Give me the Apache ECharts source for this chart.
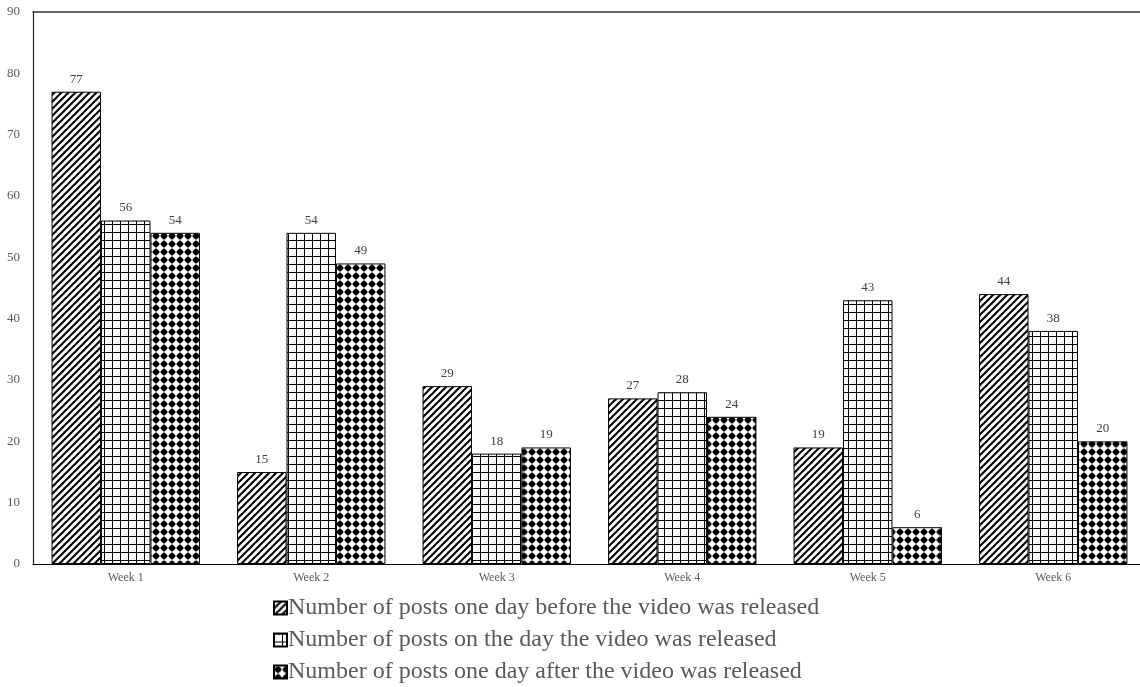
<!DOCTYPE html>
<html>
<head>
<meta charset="utf-8">
<script src="https://cdn.jsdelivr.net/npm/echarts@6/dist/echarts.min.js"></script>
<style>html,body{margin:0;padding:0;background:#fff;overflow:hidden;}#c{width:1146px;height:687px;}</style>
</head>
<body>
<div id="c"></div>
<script>
const categories = ['Week 1', 'Week 2', 'Week 3', 'Week 4', 'Week 5', 'Week 6'];
const seriesNames = [
  'Number of posts one day before the video was released',
  'Number of posts on the day the video was released',
  'Number of posts one day after the video was released'
];
const beforeValues = [77, 15, 29, 27, 19, 44];
const onDayValues = [56, 54, 18, 28, 43, 38];
const afterValues = [54, 49, 19, 24, 6, 20];
const yTicks = [0, 10, 20, 30, 40, 50, 60, 70, 80, 90];

function makeCanvas(w, h, draw) {
  const c = document.createElement('canvas');
  c.width = w; c.height = h;
  const ctx = c.getContext('2d');
  ctx.fillStyle = '#fff'; ctx.fillRect(0, 0, w, h);
  draw(ctx, w, h);
  return c;
}
const diagPat = makeCanvas(7, 7, (ctx, w, h) => {
  ctx.strokeStyle = '#000'; ctx.lineWidth = 2.0;
  for (let k = -1; k <= 1; k++) {
    ctx.beginPath();
    ctx.moveTo(k * w - 1, h + 1);
    ctx.lineTo(k * w + w + 1, -1);
    ctx.stroke();
  }
});
const gridPat = makeCanvas(8, 8, (ctx, w, h) => {
  ctx.fillStyle = '#000';
  ctx.fillRect(0, 0, w, 1);
  ctx.fillRect(0, 0, 1, h);
});
const dotPat = makeCanvas(8, 8, (ctx, w, h) => {
  ctx.fillStyle = '#000';
  ctx.beginPath();
  ctx.arc(4, 4, 3.0, 0, Math.PI * 2);
  ctx.fill();
  ctx.fillRect(3.6, 0, 0.8, 8);
  ctx.fillRect(0, 3.6, 8, 0.8);
});
const patterns = [diagPat, gridPat, dotPat];
const valueLists = [beforeValues, onDayValues, afterValues];

const serif = '"Liberation Serif", "DejaVu Serif", serif';
const chart = echarts.init(document.getElementById('c'), null, { renderer: 'canvas' });
chart.setOption({
  animation: false,
  backgroundColor: '#fff',
  grid: { left: 33, right: 0, top: 12, bottom: 123, containLabel: false },
  legend: {
    orient: 'vertical',
    left: 268, top: 591, height: 100,
    itemWidth: 13, itemHeight: 13, itemGap: 8,
    icon: 'rect',
    textStyle: { fontFamily: serif, fontSize: 24, color: '#595959', padding: [0, 0, 0, -4] },
    data: seriesNames
  },
  xAxis: [{
    type: 'category',
    data: categories,
    axisLine: { show: true, lineStyle: { color: '#000', width: 1.2 } },
    axisTick: { show: false },
    axisLabel: { fontFamily: serif, fontSize: 12, color: '#595959', margin: 8 }
  }, {
    type: 'category',
    position: 'top',
    data: categories,
    axisLine: { show: true, lineStyle: { color: '#333', width: 1.5 } },
    axisTick: { show: false },
    axisLabel: { show: false }
  }],
  yAxis: {
    type: 'value',
    min: yTicks[0], max: yTicks[yTicks.length - 1], interval: 10,
    axisLine: { show: true, lineStyle: { color: '#222', width: 1.2 } },
    axisTick: { show: false },
    splitLine: { show: false },
    axisLabel: { fontFamily: serif, fontSize: 13, color: '#595959', margin: 13 }
  },
  series: valueLists.map((vals, i) => ({
    name: seriesNames[i],
    type: 'bar',
    data: vals,
    barGap: '0%',
    barCategoryGap: '20%',
    itemStyle: {
      color: { image: patterns[i], repeat: 'repeat' },
      borderColor: '#000', borderWidth: 1
    },
    label: {
      show: true, position: 'top', distance: 6,
      fontFamily: serif, fontSize: 13, color: '#404040'
    }
  }))
});
</script>
</body>
</html>
